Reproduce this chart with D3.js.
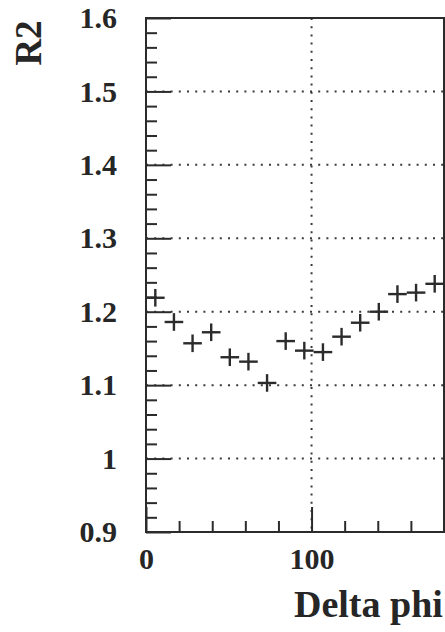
<!DOCTYPE html>
<html>
<head>
<meta charset="utf-8">
<script src="https://cdn.jsdelivr.net/npm/d3@7"></script>
<style>
  html, body { margin: 0; padding: 0; background: #fff; }
  svg { display: block; }
  text { font-family: "Liberation Serif", "DejaVu Serif", serif; font-weight: bold; fill: #262626; }
</style>
</head>
<body>
<svg id="chart" width="445" height="632"></svg>
<script>
// Measured R2 in bins of Delta phi (degrees), bin half-width as horizontal error
const deltaPhi = [5.625, 16.875, 28.125, 39.375, 50.625, 61.875, 73.125, 84.375,
                  95.625, 106.875, 118.125, 129.375, 140.625, 151.875, 163.125, 174.375];
const phiErr   = [5.625, 5.625, 5.625, 5.625, 5.625, 5.625, 5.625, 5.625,
                  5.625, 5.625, 5.625, 5.625, 5.625, 5.625, 5.625, 5.625];
const r2       = [1.219, 1.186, 1.157, 1.172, 1.138, 1.132, 1.103, 1.160,
                  1.147, 1.145, 1.166, 1.185, 1.200, 1.224, 1.226, 1.238];
const r2Err    = [0.012, 0.012, 0.012, 0.012, 0.012, 0.012, 0.012, 0.012,
                  0.012, 0.012, 0.012, 0.012, 0.012, 0.012, 0.012, 0.012];

const yMajorTicks = [0.9, 1.0, 1.1, 1.2, 1.3, 1.4, 1.5, 1.6];
const yTickLabels = ["0.9", "1", "1.1", "1.2", "1.3", "1.4", "1.5", "1.6"];
const yGridLines  = [1.0, 1.1, 1.2, 1.3, 1.4, 1.5];
const xMajorTicks = [0, 100];
const xTickLabels = ["0", "100"];
const xMinorTicks = [20, 40, 60, 80, 120, 140, 160];
const xGridLines  = [100];
const xTitle = "Delta phi";
const yTitle = "R2";

const svg = d3.select("#chart");
const ink = "#2b2b2b";

const x = d3.scaleLinear().domain([0, 180]).range([146, 444]);
const y = d3.scaleLinear().domain([0.9, 1.6]).range([532, 18]);

// minor y ticks every 0.02
const yMinorTicks = d3.range(0, 36).map(i => +(0.9 + i * 0.02).toFixed(2))
  .filter(v => !yMajorTicks.some(m => Math.abs(m - v) < 1e-6));

// dotted grid
const grid = svg.append("g")
  .attr("stroke", "#3a3a3a").attr("stroke-width", 2)
  .attr("stroke-dasharray", "2,6.2");
grid.selectAll("line.gy").data(yGridLines).join("line")
  .attr("class", "gy")
  .attr("x1", x(0)).attr("x2", x(180))
  .attr("y1", d => y(d)).attr("y2", d => y(d));
grid.selectAll("line.gx").data(xGridLines).join("line")
  .attr("class", "gx")
  .attr("y1", y(1.6)).attr("y2", y(0.9))
  .attr("x1", d => x(d)).attr("x2", d => x(d));

function styleAxis(g) {
  g.select(".domain").remove();
  g.selectAll(".tick line").attr("stroke", ink).attr("stroke-width", 2);
}

// y ticks pointing into the frame
svg.append("g").attr("transform", `translate(${x(0)},0)`)
  .call(d3.axisRight(y).tickValues(yMinorTicks).tickSize(11).tickFormat(""))
  .call(styleAxis);
svg.append("g").attr("transform", `translate(${x(0)},0)`)
  .call(d3.axisRight(y).tickValues(yMajorTicks).tickSize(25).tickFormat(""))
  .call(styleAxis);

// x ticks pointing into the frame
svg.append("g").attr("transform", `translate(0,${y(0.9)})`)
  .call(d3.axisTop(x).tickValues(xMinorTicks).tickSize(11).tickFormat(""))
  .call(styleAxis);
svg.append("g").attr("transform", `translate(0,${y(0.9)})`)
  .call(d3.axisTop(x).tickValues(xMajorTicks).tickSize(25).tickFormat(""))
  .call(styleAxis);

// frame
svg.append("rect")
  .attr("x", x(0)).attr("y", y(1.6))
  .attr("width", x(180) - x(0)).attr("height", y(0.9) - y(1.6))
  .attr("fill", "none").attr("stroke", ink).attr("stroke-width", 2);

// tick labels
const yLab = svg.append("g").attr("transform", `translate(${x(0)},0)`)
  .call(d3.axisLeft(y).tickValues(yMajorTicks).tickSize(0).tickPadding(29)
    .tickFormat((d, i) => yTickLabels[i]));
yLab.select(".domain").remove();
yLab.selectAll("text").attr("font-size", 30)
  .attr("font-family", "Liberation Serif, serif").attr("font-weight", "bold").attr("fill", "#262626");

const xLab = svg.append("g").attr("transform", `translate(0,${y(0.9)})`)
  .call(d3.axisBottom(x).tickValues(xMajorTicks).tickSize(0).tickPadding(16)
    .tickFormat((d, i) => xTickLabels[i]));
xLab.select(".domain").remove();
xLab.selectAll("text").attr("font-size", 30)
  .attr("font-family", "Liberation Serif, serif").attr("font-weight", "bold").attr("fill", "#262626");

// axis titles
svg.append("text")
  .attr("x", 294).attr("y", 617)
  .attr("font-size", 38)
  .text(xTitle);
svg.append("text")
  .attr("transform", "translate(41,43) rotate(-90)")
  .attr("text-anchor", "middle")
  .attr("font-size", 37)
  .text(yTitle);

// data points as error crosses
const pts = svg.append("g").attr("stroke", ink).attr("stroke-width", 2.4);
const idx = d3.range(deltaPhi.length);
pts.selectAll("line.h").data(idx).join("line")
  .attr("class", "h")
  .attr("x1", i => x(deltaPhi[i] - phiErr[i])).attr("x2", i => x(deltaPhi[i] + phiErr[i]))
  .attr("y1", i => y(r2[i])).attr("y2", i => y(r2[i]));
pts.selectAll("line.v").data(idx).join("line")
  .attr("class", "v")
  .attr("x1", i => x(deltaPhi[i])).attr("x2", i => x(deltaPhi[i]))
  .attr("y1", i => y(r2[i] - r2Err[i])).attr("y2", i => y(r2[i] + r2Err[i]));
</script>
</body>
</html>
